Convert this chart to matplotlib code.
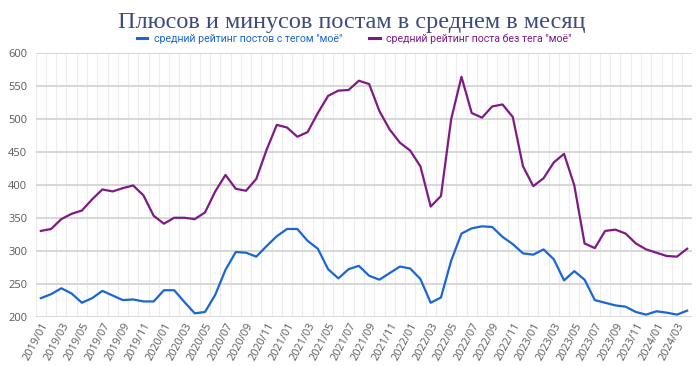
import matplotlib
matplotlib.use("Agg")
import matplotlib.pyplot as plt
import numpy as np

# months 2019/01 .. 2024/04
months = [f"{y}/{m:02d}" for y in range(2019, 2025) for m in range(1, 13)][:64]

# средний рейтинг постов с тегом "моё"
with_tag = [228, 234, 243, 235, 221, 228, 239, 232, 225, 226, 223, 223,
            240, 240, 222, 205, 207, 233, 271, 298, 297, 291, 307, 322,
            333, 333, 315, 303, 272, 258, 272, 277, 262, 256, 266, 276,
            273, 257, 221, 229, 285, 326, 334, 337, 336, 321, 310, 296,
            294, 302, 287, 255, 269, 256, 225, 221, 217, 215, 207, 203,
            208, 206, 203, 209]

# средний рейтинг поста без тега "моё"
without_tag = [330, 333, 348, 356, 361, 378, 393, 390, 395, 399, 384, 353,
               341, 350, 350, 348, 358, 390, 415, 394, 391, 409, 453, 491,
               487, 473, 480, 509, 535, 543, 544, 558, 553, 512, 484, 464,
               452, 428, 367, 383, 500, 564, 509, 502, 519, 522, 503, 428,
               398, 410, 434, 447, 399, 311, 304, 330, 332, 326, 311, 302,
               297, 292, 291, 303]

label_with = 'средний рейтинг постов с тегом "моё"'
label_without = 'средний рейтинг поста без тега "моё"'

BLUE = "#1a66d6"
PURPLE = "#7f1a84"
GRAY = "#595959"

plt.rcParams['font.family'] = ['Open Sans', 'DejaVu Sans']

fig = plt.figure(figsize=(7, 3.66), dpi=100)
ax = fig.add_axes([0.051, 0.135, 0.938, 0.72])

x = np.arange(len(months))
ax.plot(x, with_tag, color=BLUE, lw=1.6, label=label_with, solid_joinstyle='round')
ax.plot(x, without_tag, color=PURPLE, lw=1.6, label=label_without, solid_joinstyle='round')

ax.set_xlim(-0.5, len(months) - 0.5)
ax.set_ylim(200, 600)
ax.set_yticks(np.arange(200, 601, 50))

ax.set_xticks(x[::2])
ax.set_xticklabels(months[::2], rotation=62, ha='right', rotation_mode='anchor',
                   fontsize=7.8, color=GRAY)
ax.set_xticks(np.arange(-0.5, len(months)), minor=True)
ax.tick_params(axis='y', labelsize=8, colors=GRAY, length=0, pad=6)
ax.tick_params(axis='x', which='both', length=0, pad=3)

ax.grid(axis='y', which='major', color='#d4d4d4', lw=1.3)
ax.grid(axis='x', which='minor', color='#ececec', lw=0.8)
ax.set_axisbelow(True)
for s in ax.spines.values():
    s.set_visible(False)

fig.suptitle("Плюсов и минусов постам в среднем в месяц", x=0.503, y=0.968,
             fontsize=17.5, color="#3c4a7c", family=['Liberation Serif', 'DejaVu Serif'])

leg = fig.legend(loc='center', bbox_to_anchor=(0.506, 0.895), ncol=2, frameon=False,
                 handlelength=1.0, handletextpad=0.6, columnspacing=2.6,
                 prop={'family': ['Roboto', 'Open Sans'], 'size': 7.6})
for text, line in zip(leg.get_texts(), leg.get_lines()):
    text.set_color(line.get_color())
    line.set_linewidth(2.2)

fig.savefig("out.png", dpi=100)
